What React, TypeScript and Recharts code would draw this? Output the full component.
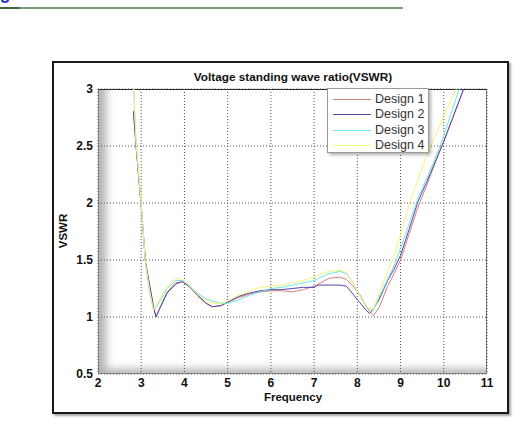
import React from 'react';
import { LineChart, Line, XAxis, YAxis, CartesianGrid, Legend } from 'recharts';

// Frequency sample points shared by all four designs
const frequency = [
  2.82, 2.88, 3.0, 3.1, 3.2, 3.28, 3.34, 3.45, 3.6, 3.8, 3.95, 4.1, 4.3, 4.5, 4.65, 4.85,
  5.0, 5.25, 5.5, 5.75, 6.0, 6.25, 6.5, 6.75, 7.0, 7.1, 7.35, 7.6, 7.75, 7.9, 8.05, 8.2,
  8.28, 8.37, 8.5, 8.7, 8.85, 9.0, 9.2, 9.4, 9.6, 9.8, 10.0, 10.2, 10.4, 10.5,
];

const design1 = [
  2.81, 2.5, 1.97, 1.48, 1.26, 1.1, 1.0, 1.1, 1.22, 1.3, 1.31, 1.28, 1.2, 1.12, 1.09, 1.1,
  1.13, 1.17, 1.2, 1.22, 1.23, 1.23, 1.22, 1.24, 1.27, 1.29, 1.34, 1.35, 1.33, 1.27, 1.2, 1.1,
  1.05, 1.01, 1.08, 1.27, 1.38, 1.5, 1.73, 1.96, 2.15, 2.35, 2.54, 2.74, 2.94, 3.04,
];

const design2 = [
  2.8, 2.5, 1.97, 1.48, 1.27, 1.1, 1.0, 1.09, 1.21, 1.29, 1.31, 1.27, 1.19, 1.12, 1.09, 1.1,
  1.13, 1.18, 1.21, 1.23, 1.24, 1.24, 1.25, 1.26, 1.26, 1.28, 1.28, 1.28, 1.27, 1.2, 1.13, 1.06,
  1.03, 1.07, 1.15, 1.32, 1.42, 1.54, 1.77, 2.01, 2.18, 2.36, 2.54, 2.74, 2.94, 3.04,
];

const design3 = [
  3.05, 2.52, 1.98, 1.45, 1.2, 1.07, 1.08, 1.15, 1.25, 1.32, 1.32, 1.28, 1.21, 1.16, 1.14, 1.12,
  1.12, 1.15, 1.19, 1.22, 1.25, 1.26, 1.28, 1.3, 1.32, 1.34, 1.38, 1.4, 1.38, 1.3, 1.19, 1.09,
  1.07, 1.06, 1.17, 1.33, 1.45, 1.6, 1.82, 2.04, 2.21, 2.39, 2.59, 2.82, 3.05, 3.15,
];

const design4 = [
  3.1, 2.55, 2.0, 1.47, 1.22, 1.06, 1.1, 1.17, 1.27, 1.34, 1.33, 1.28, 1.2, 1.14, 1.12, 1.12,
  1.14, 1.19, 1.23, 1.26, 1.27, 1.28, 1.3, 1.32, 1.35, 1.37, 1.4, 1.41, 1.39, 1.3, 1.19, 1.1,
  1.07, 1.07, 1.2, 1.4, 1.53, 1.72, 1.99, 2.2, 2.41, 2.59, 2.76, 2.93, 3.09, 3.2,
];

const xTicks = [2, 3, 4, 5, 6, 7, 8, 9, 10, 11];
const yTicks = [0.5, 1, 1.5, 2, 2.5, 3];

const seriesNames = ['Design 1', 'Design 2', 'Design 3', 'Design 4'];
const seriesColors = ['#d88080', '#5546a8', '#6ee6e6', '#f4f478'];

const rows = frequency.map((f, i) => ({
  f,
  d1: design1[i],
  d2: design2[i],
  d3: design3[i],
  d4: design4[i],
}));

const FONT = '"Liberation Sans", Arial, sans-serif';

const LegendBox = () => (
  <div
    style={{
      width: 102,
      height: 65,
      boxSizing: 'border-box',
      border: '1px solid #9a9a9a',
      background: '#fff',
      boxShadow: '2px 2px 3px rgba(0,0,0,0.3)',
      paddingTop: 3,
      fontFamily: FONT,
      fontSize: 12.5,
      color: '#333',
    }}
  >
    {seriesNames.map((name, i) => (
      <div key={name} style={{ display: 'flex', alignItems: 'center', height: 15.3 }}>
        <div style={{ marginLeft: 5, width: 38, height: 1, background: seriesColors[i] }} />
        <span style={{ marginLeft: 4, lineHeight: '15px' }}>{name}</span>
      </div>
    ))}
  </div>
);

export default function App() {
  return (
    <div style={{ position: 'absolute', left: 0, top: 0, width: 514, height: 426, background: '#fff', fontFamily: FONT }}>
      {/* page header rule */}
      <div style={{ position: 'absolute', left: 0, top: 7, width: 20, height: 2, background: '#3f6a3f' }} />
      <div style={{ position: 'absolute', left: 20, top: 7, width: 383, height: 2, background: '#7d9a7d' }} />
      <div
        style={{
          position: 'absolute', left: 1, top: -3, width: 8, height: 6,
          borderRadius: '50%', border: '2px solid #2b3bd0', borderTop: 'none', boxSizing: 'border-box',
        }}
      />

      {/* figure frame */}
      <div
        style={{
          position: 'absolute', left: 52, top: 61, width: 457, height: 353,
          boxSizing: 'border-box', border: '2px solid #1a1a1a', boxShadow: '2px 2px 2px rgba(0,0,0,0.35)',
        }}
      />
      {/* axes box with soft inner shading */}
      <div
        style={{
          position: 'absolute', left: 98, top: 89, width: 389, height: 285, boxSizing: 'border-box',
          borderTop: '1px solid #222', borderRight: '1px solid #777', borderLeft: '1px solid #888', borderBottom: '1px solid #888',
          boxShadow: 'inset 10px -7px 8px -3px rgba(0,0,0,0.3)',
        }}
      />

      <div
        style={{
          position: 'absolute', left: 0, top: 70, width: 586, textAlign: 'center',
          fontSize: 11.8, fontWeight: 'bold', color: '#111',
        }}
      >
        Voltage standing wave ratio(VSWR)
      </div>
      <div
        style={{
          position: 'absolute', left: 0, top: 391, width: 586, textAlign: 'center',
          fontSize: 11.5, fontWeight: 'bold', color: '#111',
        }}
      >
        Frequency
      </div>
      <div
        style={{
          position: 'absolute', left: 63, top: 231, transform: 'translate(-50%, -50%) rotate(-90deg)',
          fontSize: 11.5, fontWeight: 'bold', color: '#111', whiteSpace: 'nowrap',
        }}
      >
        VSWR
      </div>

      <div style={{ position: 'absolute', left: 0, top: 0 }}>
        <LineChart
          width={514}
          height={426}
          data={rows}
          margin={{ top: 89, right: 27, left: 58, bottom: 22 }}
        >
          <CartesianGrid stroke="#555" strokeDasharray="1 2" strokeWidth={1} />
          <XAxis
            dataKey="f"
            type="number"
            domain={[2, 11]}
            ticks={xTicks}
            height={30}
            axisLine={false}
            tickLine={false}
            tickSize={0}
            tickMargin={4}
            interval={0}
            tick={{ fontSize: 12, fontWeight: 'bold', fill: '#111', fontFamily: FONT }}
          />
          <YAxis
            type="number"
            domain={[0.5, 3]}
            ticks={yTicks}
            width={40}
            allowDataOverflow
            axisLine={false}
            tickLine={false}
            tickSize={0}
            tickMargin={5}
            interval={0}
            tick={{ fontSize: 12, fontWeight: 'bold', fill: '#111', fontFamily: FONT }}
          />
          <Legend
            layout="vertical"
            align="center"
            verticalAlign="middle"
            content={() => <LegendBox />}
            wrapperStyle={{ position: 'absolute', left: 327, top: 88, width: 102, height: 65 }}
          />
          <Line dataKey="d1" name="Design 1" stroke={seriesColors[0]} strokeWidth={1} dot={false} isAnimationActive={false} type="linear" />
          <Line dataKey="d2" name="Design 2" stroke={seriesColors[1]} strokeWidth={1} dot={false} isAnimationActive={false} type="linear" />
          <Line dataKey="d3" name="Design 3" stroke={seriesColors[2]} strokeWidth={1} dot={false} isAnimationActive={false} type="linear" />
          <Line dataKey="d4" name="Design 4" stroke={seriesColors[3]} strokeWidth={1} dot={false} isAnimationActive={false} type="linear" />
        </LineChart>
      </div>
    </div>
  );
}
